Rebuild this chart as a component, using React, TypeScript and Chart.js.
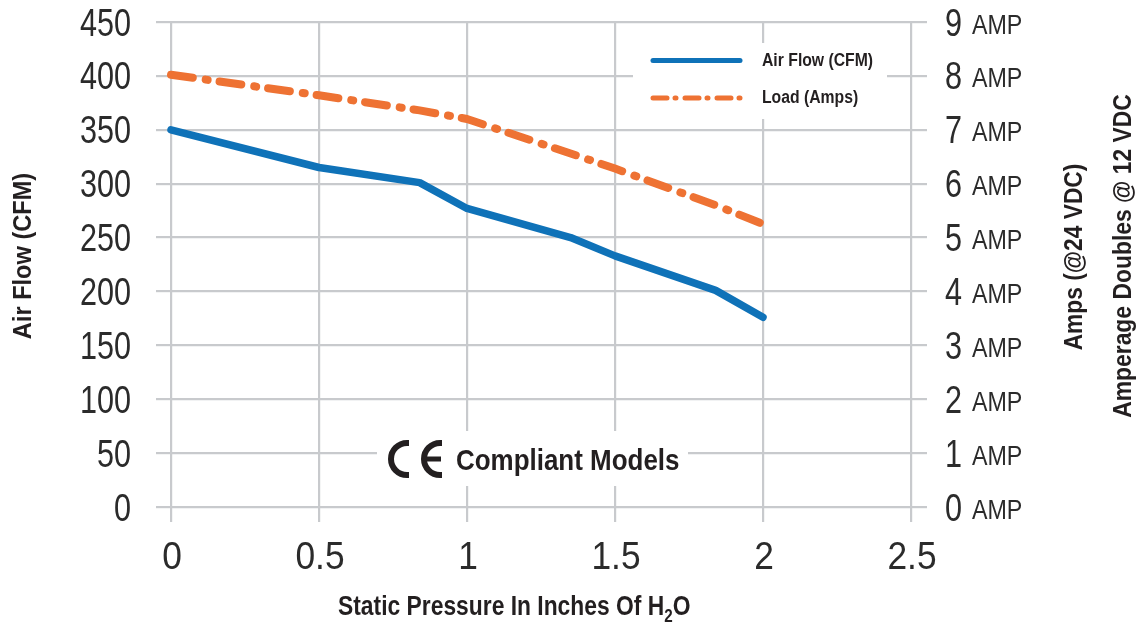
import React, { useEffect, useRef } from "react";
import { Chart, registerables } from "chart.js";

Chart.register(...registerables);

const pressure = [0, 0.5, 0.84, 1, 1.35, 1.5, 1.84, 2];
const airFlowCfm = [350, 315, 301, 277, 250, 233, 201, 176];
const loadAmps = [8.02, 7.64, 7.36, 7.2, 6.56, 6.28, 5.6, 5.25];
const seriesNames = ["Air Flow (CFM)", "Load (Amps)"];
const leftTitle = "Air Flow (CFM)";
const rightTitles = ["Amps (@24 VDC)", "Amperage Doubles @ 12 VDC"];
const bottomTitle = ["Static Pressure In Inches Of H", "2", "O"];
const compliantLabel = "Compliant Models";
const ampUnit = "AMP";

const BLUE = "#0f72b8";
const ORANGE = "#ee7233";
const GRID = "#c8cacd";
const INK = "#231f20";
const TICK_INK = "#2b2b2b";
const SANS = '"Liberation Sans", sans-serif';

function narrow(ctx: any, text: string, x: number, y: number, sx: number, align: string = "left") {
  ctx.save();
  ctx.translate(x, y);
  ctx.scale(sx, 1);
  ctx.textAlign = align;
  ctx.fillText(text, 0, 0);
  ctx.restore();
  return ctx.measureText(text).width * sx;
}

function vertical(ctx: any, text: string, x: number, y: number, sx: number) {
  ctx.save();
  ctx.translate(x, y);
  ctx.rotate(-Math.PI / 2);
  ctx.scale(sx, 1);
  ctx.textAlign = "center";
  ctx.fillText(text, 0, 0);
  ctx.restore();
}

const annotations = {
  id: "annotations",
  beforeDatasetsDraw(chart: any) {
    const { ctx } = chart;
    ctx.save();
    ctx.fillStyle = "#ffffff";
    ctx.fillRect(633, 43, 254, 76);
    ctx.fillRect(377, 431, 311, 55);
    ctx.restore();
  },
  afterDraw(chart: any) {
    const { ctx } = chart;
    const { x: xs, y: ys, y2 } = chart.scales;
    ctx.save();
    ctx.textBaseline = "alphabetic";

    ctx.fillStyle = TICK_INK;
    ctx.font = `38px ${SANS}`;
    for (const t of ys.ticks) {
      narrow(ctx, String(t.label), 131, ys.getPixelForValue(t.value) + 13.5, 0.805, "right");
    }
    for (const t of y2.ticks) {
      narrow(ctx, String(t.label), 945, y2.getPixelForValue(t.value) + 13.5, 0.805);
    }
    for (const t of xs.ticks) {
      narrow(ctx, String(t.label), xs.getPixelForValue(t.value) + 1, 569, 0.93, "center");
    }
    ctx.font = `28px ${SANS}`;
    for (const t of y2.ticks) {
      narrow(ctx, ampUnit, 972, y2.getPixelForValue(t.value) + 11.5, 0.83);
    }

    ctx.fillStyle = INK;
    ctx.lineCap = "round";
    ctx.lineWidth = 5;
    ctx.strokeStyle = BLUE;
    ctx.beginPath();
    ctx.moveTo(653, 60.5);
    ctx.lineTo(740, 60.5);
    ctx.stroke();
    ctx.strokeStyle = ORANGE;
    ctx.setLineDash([14, 8, 1, 9]);
    ctx.beginPath();
    ctx.moveTo(653, 98);
    ctx.lineTo(740, 98);
    ctx.stroke();
    ctx.setLineDash([]);

    ctx.font = `bold 18px ${SANS}`;
    narrow(ctx, seriesNames[0], 762, 66, 0.875);
    narrow(ctx, seriesNames[1], 762, 102.5, 0.875);

    ctx.lineCap = "butt";
    ctx.lineWidth = 6;
    ctx.strokeStyle = INK;
    for (const [cx, tip] of [[407, 409], [440, 442]]) {
      ctx.beginPath();
      ctx.moveTo(tip, 475);
      ctx.arc(cx, 459, 16, Math.PI * 0.5, Math.PI * 1.5);
      ctx.lineTo(tip, 443);
      ctx.stroke();
    }
    ctx.lineWidth = 5;
    ctx.beginPath();
    ctx.moveTo(424, 459);
    ctx.lineTo(441, 459);
    ctx.stroke();

    ctx.font = `bold 30px ${SANS}`;
    narrow(ctx, compliantLabel, 456, 470, 0.865);

    ctx.font = `bold 27px ${SANS}`;
    let x = 338;
    x += narrow(ctx, bottomTitle[0], x, 615, 0.846);
    ctx.font = `bold 18px ${SANS}`;
    x += narrow(ctx, bottomTitle[1], x, 622, 0.846);
    ctx.font = `bold 27px ${SANS}`;
    narrow(ctx, bottomTitle[2], x, 615, 0.846);

    ctx.textBaseline = "middle";
    ctx.font = `bold 26px ${SANS}`;
    vertical(ctx, leftTitle, 24, 256, 0.907);
    vertical(ctx, rightTitles[0], 1075, 257, 0.876);
    vertical(ctx, rightTitles[1], 1124, 256, 0.88);
    ctx.restore();
  },
};

export default function App() {
  const ref = useRef<HTMLCanvasElement | null>(null);

  useEffect(() => {
    if (!ref.current) return;
    const chart = new Chart(ref.current, {
      type: "line",
      data: {
        datasets: [
          {
            label: seriesNames[0],
            data: pressure.map((x, i) => ({ x, y: airFlowCfm[i] })),
            yAxisID: "y",
            borderColor: BLUE,
            borderWidth: 7.5,
            borderCapStyle: "round",
            borderJoinStyle: "round",
            pointRadius: 0,
            tension: 0,
            clip: false,
          },
          {
            label: seriesNames[1],
            data: pressure.map((x, i) => ({ x, y: loadAmps[i] })),
            yAxisID: "y2",
            borderColor: ORANGE,
            borderWidth: 8,
            borderCapStyle: "round",
            borderJoinStyle: "round",
            borderDash: [22, 13, 2, 12],
            pointRadius: 0,
            tension: 0,
            clip: false,
          },
        ],
      },
      plugins: [annotations],
      options: {
        responsive: false,
        animation: false,
        devicePixelRatio: 1,
        layout: { padding: { top: 22, left: 0, right: 0, bottom: 0 } },
        plugins: { legend: { display: false }, title: { display: false }, tooltip: { enabled: false } },
        scales: {
          x: {
            type: "linear",
            min: 0,
            max: 2.5,
            afterFit: (s: any) => { s.height = 123; },
            ticks: { stepSize: 0.5, display: false, callback: (v: any) => String(v) },
            grid: { color: GRID, tickColor: GRID, lineWidth: 2.2, tickLength: 15 },
            border: { display: false },
          },
          y: {
            position: "left",
            min: 0,
            max: 450,
            afterFit: (s: any) => { s.width = 171; },
            ticks: { stepSize: 50, display: false },
            grid: { color: GRID, tickColor: GRID, lineWidth: 2.2, tickLength: 15 },
            border: { display: false },
          },
          y2: {
            position: "right",
            min: 0,
            max: 9,
            afterFit: (s: any) => { s.width = 229; },
            ticks: { stepSize: 1, display: false },
            grid: { color: GRID, tickColor: GRID, lineWidth: 2.2, tickLength: 16, drawOnChartArea: false },
            border: { display: false },
          },
        },
      },
    } as any);
    return () => chart.destroy();
  }, []);

  return (
    <div style={{ position: "absolute", left: 0, top: 0, width: 1140, height: 630, background: "#fff" }}>
      <canvas ref={ref} width={1140} height={630} style={{ display: "block" }} />
    </div>
  );
}
